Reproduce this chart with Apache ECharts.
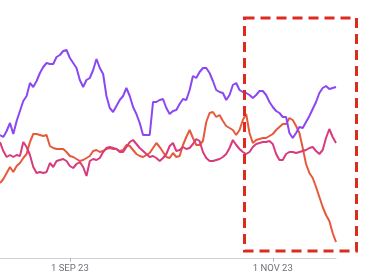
<!DOCTYPE html>
<html>
<head>
<meta charset="utf-8">
<script src="https://cdn.jsdelivr.net/npm/echarts@6/dist/echarts.min.js"></script>
<style>html,body{margin:0;padding:0;background:#fff}#c{width:369px;height:278px}</style>
</head>
<body>
<div id="c"></div>
<script>
// Daily categories, 11 Aug 2023 .. 20 Nov 2023
const startDate = '2023-08-11';
const dayCount = 102;
const tickDates = ['2023-09-01', '2023-11-01'];
const monthNames = ['JAN','FEB','MAR','APR','MAY','JUN','JUL','AUG','SEP','OCT','NOV','DEC'];

const purpleSeries = [123,121,127,135,124,137,147,157,162,175,171,177,185,191,195,194,194,201,203,207,208,200,195,190,178,171,178,180,188,199,190,184,162,150,146,152,158,162,170,162,151,144,135,123,123,123,156,156,158,159,150,144,147,148,154,159,158,168,182,180,186,190,190,185,177,168,166,165,158,163,173,175,168,166,165,163,160,163,167,167,163,156,151,147,145,141,141,125,120,125,131,130,136,142,149,156,165,170,172,169,170,171];
const orangeSeries = [75,79,85,91,86,92,95,100,104,116,124,124,123,122,123,112,110,109,109,109,106,102,101,99,97,98,100,102,107,108,106,107,109,110,109,109,107,108,113,112,108,104,102,101,103,105,110,115,111,106,101,100,105,101,102,113,121,128,120,113,113,117,136,145,146,141,143,137,132,130,128,123,128,138,144,125,115,118,119,120,120,122,124,128,131,134,134,140,138,132,125,110,94,85,80,71,61,51,43,37,25,16];
const magentaSeries = [116,107,101,103,101,103,102,116,111,103,91,85,86,85,86,95,91,97,98,99,97,92,90,94,96,91,82,97,99,98,100,106,110,111,110,109,106,106,111,116,118,114,110,107,104,101,102,100,97,100,104,112,115,107,108,111,109,110,114,119,117,106,100,97,97,98,99,101,104,110,118,113,109,106,104,106,111,114,115,116,116,117,114,104,98,98,104,106,106,105,106,107,108,110,111,107,104,108,120,129,121,115];

const categories = [];
{
  const d0 = new Date(startDate + 'T00:00:00Z');
  for (let i = 0; i < dayCount; i++) {
    const d = new Date(d0.getTime() + i * 86400000);
    categories.push(d.toISOString().slice(0, 10));
  }
}
function fmt(s) {
  const p = s.split('-');
  return parseInt(p[2], 10) + ' ' + monthNames[parseInt(p[1], 10) - 1] + ' ' + p[0].slice(2);
}
const isTick = (idx) => tickDates.indexOf(categories[idx]) >= 0;

const chart = echarts.init(document.getElementById('c'), null, {renderer: 'canvas'});
const lineStyleBase = {width: 2};
chart.setOption({
  animation: false,
  backgroundColor: '#ffffff',
  grid: {left: 0, right: 33, top: 0, bottom: 20, containLabel: false},
  xAxis: {
    type: 'category',
    data: categories,
    boundaryGap: false,
    axisLine: {show: true, lineStyle: {color: '#cfcfd6', width: 1}},
    axisTick: {show: true, interval: (idx) => isTick(idx), length: 4, lineStyle: {color: '#b8b8c0'}},
    axisLabel: {
      interval: (idx) => isTick(idx),
      formatter: (v) => fmt(v),
      color: '#707078',
      fontSize: 9.5,
      fontFamily: 'Roboto',
      margin: 6
    },
    splitLine: {show: false}
  },
  yAxis: {type: 'value', min: 0, max: 258, show: false},
  series: [
    {type: 'line', data: purpleSeries, showSymbol: false, lineStyle: Object.assign({color: '#8a47f2'}, lineStyleBase), itemStyle: {color: '#8a47f2'}, z: 3},
    {type: 'line', data: orangeSeries, showSymbol: false, lineStyle: Object.assign({color: '#e65a3c'}, lineStyleBase), itemStyle: {color: '#e65a3c'}, z: 2},
    {type: 'line', data: magentaSeries, showSymbol: false, lineStyle: Object.assign({color: '#d83a7c'}, lineStyleBase), itemStyle: {color: '#d83a7c'}, z: 2}
  ],
  graphic: [{
    type: 'rect',
    shape: {x: 244.5, y: 18, width: 112, height: 233},
    style: {fill: 'none', stroke: '#de2b22', lineWidth: 3, lineDash: [10, 6]},
    z: 10
  }]
});
</script>
</body>
</html>
